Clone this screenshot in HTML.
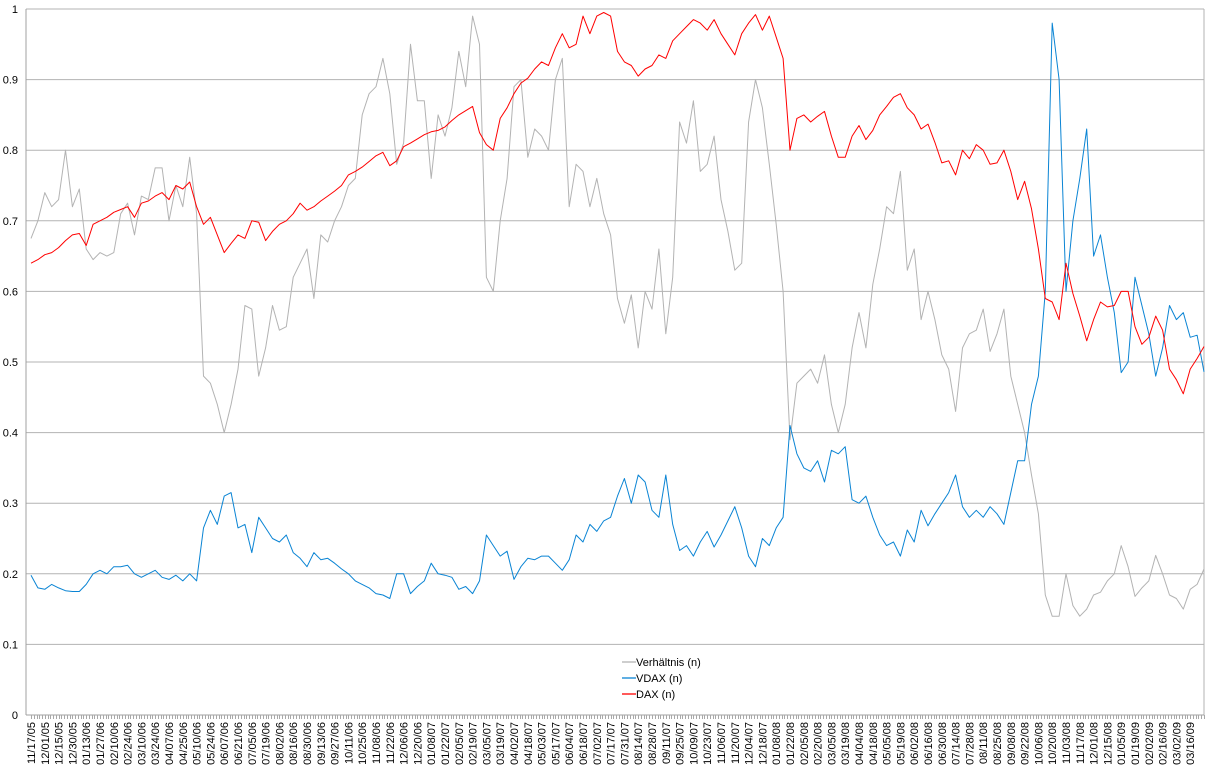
<!DOCTYPE html>
<html><head><meta charset="utf-8"><style>
html,body{margin:0;padding:0;background:#fff;}
svg{display:block;font-family:"Liberation Sans",sans-serif;}
</style></head><body>
<svg id="chart" width="1209" height="774" viewBox="0 0 1209 774" xmlns="http://www.w3.org/2000/svg">
<g id="grid"></g>
<g id="yaxis"></g>
<g id="xaxis"></g>
<g id="series"></g>
<g id="legend">
  <g>
    <line x1="622" y1="662" x2="636" y2="662" stroke="#b3b3b3" stroke-width="1.3"/>
    <text x="636" y="666" font-size="11" fill="#000">Verhältnis (n)</text>
  </g>
  <g>
    <line x1="622" y1="678" x2="636" y2="678" stroke="#0a84d4" stroke-width="1.3"/>
    <text x="636" y="682" font-size="11" fill="#000">VDAX (n)</text>
  </g>
  <g>
    <line x1="622" y1="694" x2="636" y2="694" stroke="#ff0000" stroke-width="1.3"/>
    <text x="636" y="698" font-size="11" fill="#000">DAX (n)</text>
  </g>
</g>
</svg>
<script>
const dateLabels = ["11/17/05","12/01/05","12/15/05","12/30/05","01/13/06","01/27/06","02/10/06","02/24/06","03/10/06","03/24/06","04/07/06","04/25/06","05/10/06","05/24/06","06/07/06","06/21/06","07/05/06","07/19/06","08/02/06","08/16/06","08/30/06","09/13/06","09/27/06","10/11/06","10/25/06","11/08/06","11/22/06","12/06/06","12/20/06","01/08/07","01/22/07","02/05/07","02/19/07","03/05/07","03/19/07","04/02/07","04/18/07","05/03/07","05/17/07","06/04/07","06/18/07","07/02/07","07/17/07","07/31/07","08/14/07","08/28/07","09/11/07","09/25/07","10/09/07","10/23/07","11/06/07","11/20/07","12/04/07","12/18/07","01/08/08","01/22/08","02/05/08","02/20/08","03/05/08","03/19/08","04/04/08","04/18/08","05/05/08","05/19/08","06/02/08","06/16/08","06/30/08","07/14/08","07/28/08","08/11/08","08/25/08","09/08/08","09/22/08","10/06/08","10/20/08","11/03/08","11/17/08","12/01/08","12/15/08","01/05/09","01/19/09","02/02/09","02/16/09","03/02/09","03/16/09"];
const yTicks = [0,0.1,0.2,0.3,0.4,0.5,0.6,0.7,0.8,0.9,1];
const yTickLabels = ["0","0.1","0.2","0.3","0.4","0.5","0.6","0.7","0.8","0.9","1"];
const daxValues = [0.64,0.645,0.652,0.655,0.662,0.672,0.68,0.682,0.665,0.695,
0.70,0.705,0.712,0.716,0.72,0.705,0.725,0.728,0.735,0.74,
0.73,0.75,0.745,0.755,0.72,0.695,0.705,0.68,0.655,0.668,
0.68,0.675,0.7,0.698,0.672,0.685,0.695,0.70,0.71,0.725,
0.715,0.72,0.728,0.735,0.742,0.75,0.765,0.77,0.776,0.784,
0.792,0.797,0.778,0.785,0.805,0.81,0.816,0.822,0.826,0.828,
0.833,0.842,0.85,0.856,0.862,0.825,0.808,0.8,0.845,0.86,
0.88,0.895,0.902,0.915,0.925,0.92,0.945,0.965,0.945,0.95,
0.99,0.965,0.99,0.995,0.99,0.94,0.925,0.92,0.905,0.915,
0.92,0.935,0.93,0.955,0.965,0.975,0.985,0.98,0.97,0.985,
0.965,0.95,0.935,0.965,0.98,0.992,0.97,0.99,0.96,0.93,
0.8,0.845,0.85,0.84,0.848,0.855,0.82,0.79,0.79,0.82,
0.835,0.815,0.828,0.85,0.862,0.875,0.88,0.86,0.85,0.83,
0.837,0.811,0.782,0.785,0.765,0.8,0.788,0.808,0.8,0.78,
0.782,0.8,0.77,0.73,0.756,0.717,0.66,0.59,0.585,0.56,
0.64,0.597,0.565,0.53,0.56,0.585,0.578,0.58,0.6,0.6,
0.55,0.525,0.535,0.565,0.545,0.49,0.475,0.455,0.49,0.505,
0.522];
const vdaxValues = [0.198,0.18,0.178,0.185,0.18,0.176,0.175,0.175,0.185,0.2,
0.205,0.2,0.21,0.21,0.212,0.2,0.195,0.2,0.205,0.195,
0.192,0.198,0.19,0.2,0.19,0.265,0.29,0.27,0.31,0.315,
0.265,0.27,0.23,0.28,0.265,0.25,0.245,0.255,0.23,0.222,
0.21,0.23,0.22,0.222,0.215,0.207,0.2,0.19,0.185,0.18,
0.172,0.17,0.165,0.2,0.2,0.172,0.182,0.19,0.215,0.2,
0.198,0.195,0.178,0.182,0.172,0.19,0.255,0.24,0.225,0.232,
0.192,0.21,0.222,0.22,0.225,0.225,0.215,0.205,0.22,0.255,
0.245,0.27,0.26,0.275,0.28,0.31,0.335,0.3,0.34,0.33,
0.29,0.28,0.34,0.27,0.233,0.24,0.225,0.245,0.26,0.238,
0.255,0.275,0.295,0.265,0.225,0.21,0.25,0.24,0.265,0.28,
0.41,0.37,0.35,0.345,0.36,0.33,0.375,0.37,0.38,0.305,
0.3,0.31,0.28,0.255,0.24,0.245,0.225,0.262,0.245,0.29,
0.268,0.285,0.3,0.315,0.34,0.295,0.28,0.29,0.28,0.295,
0.285,0.27,0.315,0.36,0.36,0.44,0.48,0.6,0.98,0.9,
0.6,0.7,0.76,0.83,0.65,0.68,0.62,0.57,0.485,0.5,
0.62,0.58,0.54,0.48,0.52,0.58,0.56,0.57,0.535,0.538,
0.486];
const ratioValues = [0.675,0.70,0.74,0.72,0.73,0.80,0.72,0.745,0.66,0.645,
0.655,0.65,0.655,0.71,0.725,0.68,0.735,0.73,0.775,0.775,
0.70,0.75,0.72,0.79,0.71,0.48,0.47,0.44,0.40,0.44,
0.49,0.58,0.575,0.48,0.52,0.58,0.545,0.55,0.62,0.64,
0.66,0.59,0.68,0.67,0.70,0.72,0.75,0.76,0.85,0.88,
0.89,0.93,0.88,0.78,0.81,0.95,0.87,0.87,0.76,0.85,
0.82,0.86,0.94,0.89,0.99,0.95,0.62,0.6,0.7,0.76,
0.89,0.9,0.79,0.83,0.82,0.8,0.9,0.93,0.72,0.78,
0.77,0.72,0.76,0.71,0.68,0.59,0.555,0.595,0.52,0.6,
0.575,0.66,0.54,0.62,0.84,0.81,0.87,0.77,0.78,0.82,
0.73,0.685,0.63,0.64,0.84,0.9,0.86,0.78,0.695,0.6,
0.39,0.47,0.48,0.49,0.47,0.51,0.44,0.4,0.44,0.52,
0.57,0.52,0.61,0.66,0.72,0.71,0.77,0.63,0.66,0.56,
0.6,0.56,0.51,0.49,0.43,0.52,0.54,0.545,0.575,0.515,
0.54,0.575,0.48,0.44,0.4,0.34,0.285,0.17,0.14,0.14,
0.2,0.155,0.14,0.15,0.17,0.174,0.19,0.2,0.24,0.21,
0.168,0.18,0.19,0.226,0.2,0.17,0.165,0.15,0.178,0.185,
0.207];

const NS = "http://www.w3.org/2000/svg";
const plotL = 26, plotR = 1204, plotT = 9, plotB = 715;
const firstX = 31;
const nSteps = daxValues.length - 1;
function xScale(i){ return firstX + i * (plotR - firstX) / nSteps; }
function yScale(v){ return plotB - v * (plotB - plotT); }
function mk(tag, attrs, parent){
  const e = document.createElementNS(NS, tag);
  for (const k in attrs) e.setAttribute(k, attrs[k]);
  parent.appendChild(e);
  return e;
}
const grid = document.getElementById('grid');
const yaxis = document.getElementById('yaxis');
const xaxis = document.getElementById('xaxis');
const series = document.getElementById('series');

yTicks.forEach((v, i) => {
  const y = yScale(v);
  if (v > 0) {
    const gl = mk('line', {x1: plotL, x2: plotR, y1: y, y2: y, stroke: '#b3b3b3', 'stroke-width': 1}, grid);
    
    
  }
  const t = mk('text', {x: 18, y: y + 4, 'font-size': 11, 'text-anchor': 'end', fill: '#000'}, yaxis);
  
  
  t.textContent = yTickLabels[i];
});
const axL = mk('line', {x1: plotL, x2: plotL, y1: plotT, y2: plotB, stroke: '#a0a0a0', 'stroke-width': 1}, yaxis);


const axR = mk('line', {x1: plotR, x2: plotR, y1: plotT, y2: plotB, stroke: '#b3b3b3', 'stroke-width': 1}, yaxis);


const axB = mk('line', {x1: plotL, x2: plotR, y1: plotB, y2: plotB, stroke: '#a0a0a0', 'stroke-width': 1}, xaxis);



let tickD = '';
for (let i = 0; i <= nSteps * 2.5; i++) {
  const x = Math.round(firstX + i * (plotR - firstX) / (nSteps * 2.5)) + 0.5;
  tickD += 'M' + x + ' ' + plotB + 'V' + (plotB + 4);
}
const ticks = mk('path', {d: tickD, stroke: '#a8a8a8', 'stroke-width': 1, fill: 'none'}, xaxis);



dateLabels.forEach((lab, i) => {
  const x = xScale(i * 2);
  const t = mk('text', {x: 0, y: 0, 'font-size': 11, 'text-anchor': 'end', fill: '#000',
    transform: 'translate(' + (x + 4) + ',' + 722 + ') rotate(-90)'}, xaxis);
  
  
  t.textContent = lab;
});

function drawLine(vals, color, name){
  const d = vals.map((v, i) => (i ? 'L' : 'M') + xScale(i).toFixed(1) + ' ' + yScale(v).toFixed(1)).join('');
  const p = mk('path', {d: d, stroke: color, 'stroke-width': 1, fill: 'none', 'stroke-linejoin': 'round'}, series);
  
  
}
drawLine(ratioValues, '#b3b3b3', 'verhaeltnis-line');
drawLine(vdaxValues, '#0a84d4', 'vdax-line');
drawLine(daxValues, '#ff0000', 'dax-line');
</script>
</body></html>
